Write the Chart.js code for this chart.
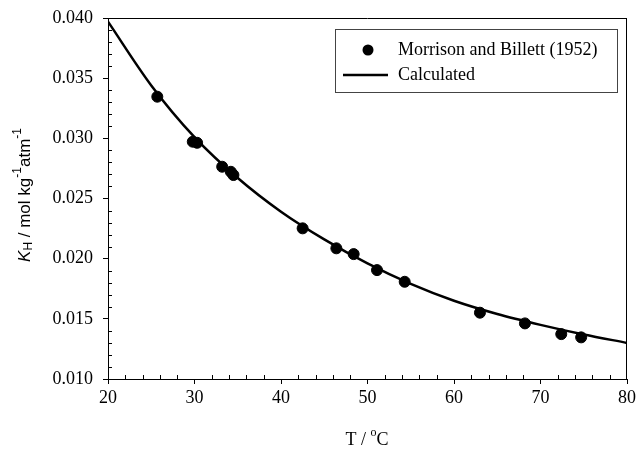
<!DOCTYPE html>
<html>
<head>
<meta charset="utf-8">
<script src="https://cdn.jsdelivr.net/npm/chart.js@4"></script>
<style>
  body { margin: 0; background: #fff; }
  #wrap { width: 636px; height: 450px; }
</style>
</head>
<body>
<div id="wrap"><canvas id="chart" width="636" height="450"></canvas></div>
<script>
// measured points, Morrison and Billett (1952)
var measT = [25.7, 29.8, 30.3, 33.2, 34.2, 34.5, 42.5, 46.4, 48.4, 51.1, 54.3, 63.0, 68.2, 72.4, 74.7];
var measK = [0.03346, 0.02972, 0.02963, 0.02764, 0.02722, 0.02695, 0.02252, 0.02086, 0.02038, 0.01905, 0.01808, 0.01551, 0.01462, 0.01373, 0.01346];

// calculated curve
var calcT = [20, 25, 30, 35, 40, 45, 50, 55, 60, 65, 70, 75, 80];
var calcK = [0.0397, 0.0344, 0.0301, 0.0267, 0.0239, 0.0216, 0.0196, 0.0179, 0.0165, 0.0154, 0.0145, 0.0137, 0.0130];

var xTicks = [20, 30, 40, 50, 60, 70, 80];
var yTicks = [0.010, 0.015, 0.020, 0.025, 0.030, 0.035, 0.040];

var serif = "'Liberation Serif', 'Times New Roman', serif";
var sans = "'Liberation Sans', Arial, sans-serif";

function pairs(xs, ys) {
    return xs.map(function (x, i) { return { x: x, y: ys[i] }; });
}

var framePlugin = {
    id: 'frame',
    afterDraw: function (chart) {
        var ctx = chart.ctx;
        var a = chart.chartArea;
        var xs = chart.scales.x;
        var ys = chart.scales.y;
        ctx.save();

        // top and right border
        ctx.strokeStyle = '#000';
        ctx.lineWidth = 1;
        ctx.beginPath();
        ctx.moveTo(a.left, a.top + 0.5);
        ctx.lineTo(a.right, a.top + 0.5);
        ctx.moveTo(a.right - 0.5, a.top);
        ctx.lineTo(a.right - 0.5, a.bottom);
        ctx.stroke();

        // minor ticks, pointing inside
        ctx.beginPath();
        for (var t = 22; t < 80; t += 2) {
            if (t % 10 === 0) continue;
            var px = Math.round(xs.getPixelForValue(t)) + 0.5;
            ctx.moveTo(px, a.bottom);
            ctx.lineTo(px, a.bottom - 4);
        }
        for (var k = 11; k < 40; k++) {
            if (k % 5 === 0) continue;
            var py = Math.round(ys.getPixelForValue(k / 1000)) + 0.5;
            ctx.moveTo(a.left, py);
            ctx.lineTo(a.left + 4, py);
        }
        ctx.stroke();

        // legend box
        var ds = chart.data.datasets;
        ctx.strokeStyle = '#444';
        ctx.strokeRect(335.5, 29.5, 282, 63);
        ctx.fillStyle = '#000';
        ctx.beginPath();
        ctx.arc(368, 50, 5.5, 0, Math.PI * 2);
        ctx.fill();
        ctx.strokeStyle = '#000';
        ctx.lineWidth = 2.5;
        ctx.beginPath();
        ctx.moveTo(343, 75);
        ctx.lineTo(388, 75);
        ctx.stroke();
        ctx.font = '18px ' + serif;
        ctx.textBaseline = 'middle';
        ctx.textAlign = 'left';
        ctx.fillText(ds[1].label, 398, 50);
        ctx.fillText(ds[0].label, 398, 75);

        // x title: T / oC
        var parts = [
            { t: 'T / ', f: '18px ' + serif, dy: 0 },
            { t: 'o', f: '12px ' + serif, dy: -7 },
            { t: 'C', f: '18px ' + serif, dy: 0 }
        ];
        drawParts(ctx, parts, 367, 440);

        // y title: K_H / mol kg-1 atm-1
        ctx.save();
        ctx.translate(25, 195);
        ctx.rotate(-Math.PI / 2);
        var yparts = [
            { t: 'K', f: 'italic 17px ' + sans, dy: 0 },
            { t: 'H', f: '12px ' + sans, dy: 4 },
            { t: ' / mol kg', f: '17px ' + sans, dy: 0 },
            { t: '-1', f: '12px ' + sans, dy: -7 },
            { t: 'atm', f: '17px ' + sans, dy: 0 },
            { t: '-1', f: '12px ' + sans, dy: -7 }
        ];
        drawParts(ctx, yparts, 0, 0);
        ctx.restore();

        ctx.restore();
    }
};

function drawParts(ctx, parts, cx, cy) {
    var total = 0;
    parts.forEach(function (p) { ctx.font = p.f; p.w = ctx.measureText(p.t).width; total += p.w; });
    var x = cx - total / 2;
    ctx.fillStyle = '#000';
    ctx.textAlign = 'left';
    ctx.textBaseline = 'middle';
    parts.forEach(function (p) {
        ctx.font = p.f;
        ctx.fillText(p.t, x, cy + p.dy);
        x += p.w;
    });
}

new Chart(document.getElementById('chart').getContext('2d'), {
    type: 'scatter',
    data: {
        datasets: [
            {
                label: 'Calculated',
                type: 'line',
                data: pairs(calcT, calcK),
                borderColor: '#000',
                borderWidth: 2.5,
                pointRadius: 0,
                fill: false,
                cubicInterpolationMode: 'monotone',
                order: 2
            },
            {
                label: 'Morrison and Billett (1952)',
                data: pairs(measT, measK),
                backgroundColor: '#000',
                borderColor: '#000',
                pointRadius: 5.5,
                pointHoverRadius: 5.5,
                order: 1
            }
        ]
    },
    options: {
        responsive: false,
        animation: false,
        devicePixelRatio: 1,
        layout: { padding: { top: 18, right: 9, left: 0, bottom: 0 } },
        plugins: {
            legend: { display: false },
            tooltip: { enabled: false }
        },
        scales: {
            x: {
                type: 'linear',
                min: 20,
                max: 80,
                afterFit: function (s) { s.height = 71; s.paddingLeft = 0; s.paddingRight = 0; },
                afterBuildTicks: function (s) { s.ticks = xTicks.map(function (v) { return { value: v }; }); },
                grid: { drawOnChartArea: false, drawTicks: true, tickLength: 5, color: '#000' },
                border: { display: true, color: '#000', width: 1 },
                ticks: { color: '#000', font: { family: serif, size: 18 }, padding: 3, maxRotation: 0 }
            },
            y: {
                type: 'linear',
                min: 0.010,
                max: 0.040,
                afterFit: function (s) { s.width = 108; s.paddingTop = 0; s.paddingBottom = 0; },
                afterBuildTicks: function (s) { s.ticks = yTicks.map(function (v) { return { value: v }; }); },
                grid: { drawOnChartArea: false, drawTicks: true, tickLength: 5, color: '#000' },
                border: { display: true, color: '#000', width: 1 },
                ticks: {
                    color: '#000',
                    font: { family: serif, size: 18 },
                    padding: 10,
                    callback: function (v) { return v.toFixed(3); }
                }
            }
        }
    },
    plugins: [framePlugin]
});
</script>
</body>
</html>
